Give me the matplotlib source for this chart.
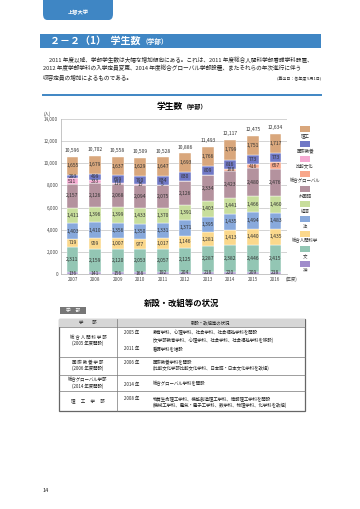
import matplotlib
matplotlib.use("Agg")
import matplotlib.pyplot as plt
from matplotlib.patches import Rectangle, FancyBboxPatch

plt.rcParams['font.family'] = ['Noto Sans CJK JP', 'DejaVu Sans']

years = ['2007', '2008', '2009', '2010', '2011', '2012', '2013', '2014', '2015', '2016']

# bottom to top
series = ['神', '文', '総合人間科学', '法', '経済', '外国語', '総合グローバル', '比較文化', '国際教養', '理工']
shin = [136, 141, 156, 168, 192, 204, 218, 220, 209, 218]
bun = [2311, 2159, 2120, 2053, 2057, 2125, 2287, 2382, 2446, 2415]
sogo_ningen = [719, 959, 1007, 977, 1017, 1146, 1281, 1413, 1440, 1435]
hou = [1403, 1410, 1356, 1350, 1331, 1371, 1395, 1435, 1494, 1483]
keizai = [1411, 1396, 1399, 1433, 1370, 1391, 1403, 1441, 1466, 1460]
gaikokugo = [2157, 2126, 2068, 2094, 2075, 2126, 2334, 2423, 2480, 2476]
sogo_global = [0, 0, 0, 0, 0, 0, 0, 188, 416, 657]
hikaku = [511, 333, 116, 15, 5, 0, 0, 0, 0, 0]
kokusai = [293, 499, 699, 790, 834, 830, 809, 816, 773, 773]
riko = [1655, 1679, 1637, 1629, 1647, 1693, 1766, 1799, 1751, 1717]
values = [shin, bun, sogo_ningen, hou, keizai, gaikokugo, sogo_global, hikaku, kokusai, riko]
colors = ['#a08ccb', '#93c6b4', '#fbd88c', '#88a9dc', '#c8de9c', '#b4929e',
          '#f8a78b', '#f5aad2', '#7078c6', '#d9a77c']

W, H = 360, 509
def fx(x):
    return x / W
def fy(y):
    return 1 - y / H

blue = '#3f86c4'
fig = plt.figure(figsize=(3.6, 5.09), dpi=100)

# header tab
fig.patches.append(FancyBboxPatch((fx(43), fy(20)), fx(70), 20 / H, boxstyle='round,pad=0,rounding_size=0.012',
                                  transform=fig.transFigure, fc=blue, ec='none'))
fig.patches.append(Rectangle((fx(43), fy(10)), fx(70), 10 / H, transform=fig.transFigure, fc=blue, ec='none'))
fig.text(fx(78), fy(13), '上智大学', color='white', fontsize=3.8, weight='bold', ha='center', va='center')

# title bar
fig.patches.append(Rectangle((fx(40), fy(48)), fx(281), 14 / H, transform=fig.transFigure, fc=blue, ec='none'))
fig.text(fx(141), fy(41), '２－２（1）  学生数', color='white', fontsize=7.2, weight='bold',
         ha='right', va='center')
fig.text(fx(142), fy(41.5), '（学部）', color='white', fontsize=4.8, weight='bold', ha='left', va='center')

# paragraph
para = ['2011 年度以降、学部学生数は大幅な増加傾向にある。これは、2011 年度総合人間科学部看護学科設置、',
        '2012 年度学部学科の入学定員変更、2014 年度総合グローバル学部設置、またそれらの年次進行に伴う',
        '収容定員の増加によるものである。']
fig.text(fx(49), fy(60), para[0], fontsize=4.05, va='center', color='#222')
fig.text(fx(43), fy(68.5), para[1], fontsize=4.1, va='center', color='#222')
fig.text(fx(43), fy(77), para[2], fontsize=4.1, va='center', color='#222')
fig.text(fx(321), fy(79), '(算出日：各年度 5月1日)', fontsize=2.9, ha='right', va='center', color='#222')

fig.add_artist(plt.Line2D([fx(43), fx(321)], [fy(95), fy(95)], color=blue, lw=1.4, transform=fig.transFigure))

# chart title
fig.text(fx(183), fy(106), '学生数', fontsize=6.3, weight='bold', ha='right', va='center')
fig.text(fx(183), fy(106.5), '（学部）', fontsize=4.4, weight='bold', ha='left', va='center')

# chart
ax = fig.add_axes([fx(61), fy(274), fx(287) - fx(61), fy(119) - fy(274)])
x = list(range(len(years)))
bottom = [0] * len(years)
for name, vals, c in zip(series, values, colors):
    ax.bar(x, vals, 0.53, bottom=bottom, color=c, edgecolor='white', linewidth=0.3, zorder=3)
    for i, v in enumerate(vals):
        if v > 0:
            ax.text(i, bottom[i] + v / 2, f'{v:,}', fontsize=3.6, ha='center', va='center',
                    color='#333', zorder=4)
    bottom = [b + v for b, v in zip(bottom, vals)]
for i, t in enumerate(bottom):
    ax.text(i, t + 330, f'{t:,}', fontsize=3.6, ha='center', va='bottom', color='#333')

ax.set_xlim(-0.51, 9.51)
ax.set_ylim(0, 14000)
ax.set_yticks(range(0, 14001, 2000))
ax.set_yticklabels([f'{v:,}' for v in range(0, 14001, 2000)])
ax.set_xticks(x)
ax.set_xticklabels(years)
ax.tick_params(labelsize=3.3, length=0, pad=2, colors='#444')
ax.grid(axis='y', color='#cccccc', lw=0.6, zorder=0)
for s in ['top', 'right']:
    ax.spines[s].set_visible(False)
for s in ['left', 'bottom']:
    ax.spines[s].set_color('#bbbbbb')
    ax.spines[s].set_linewidth(0.6)
fig.text(fx(47), fy(114), '(人)', fontsize=3.2, ha='center', va='center', color='#444')
fig.text(fx(291), fy(279), '(年度)', fontsize=3.2, ha='center', va='center', color='#444')

# legend
for k, (name, c) in enumerate(zip(series[::-1], colors[::-1])):
    yc = 129 + 15 * k
    fig.patches.append(Rectangle((fx(300), fy(yc + 2.7)), fx(9.5), 5.4 / H, transform=fig.transFigure,
                                 fc=c, ec='none'))
    fig.text(fx(305), fy(yc + 7), name, fontsize=3.2, ha='center', va='center', color='#333')

# table section
fig.text(fx(182), fy(303), '新設・改組等の状況', fontsize=6.0, weight='bold', ha='center', va='center')
fig.patches.append(Rectangle((fx(60), fy(313.5)), fx(26), 6.5 / H, transform=fig.transFigure,
                             fc='#777777', ec='none'))
fig.text(fx(73), fy(310.3), '学　部', fontsize=3.4, color='white', ha='center', va='center')

tl, tm, tr = 59, 117, 305
rows = [319, 327, 357, 375, 391, 411]
fig.patches.append(Rectangle((fx(tl), fy(rows[1])), fx(tr - tl), (rows[1] - rows[0]) / H,
                             transform=fig.transFigure, fc='#d6d6d6', ec='none'))
def hline(y, lw=0.5):
    fig.add_artist(plt.Line2D([fx(tl), fx(tr)], [fy(y), fy(y)], color='#777', lw=lw, transform=fig.transFigure))
for r in rows[1:-1]:
    hline(r, 0.5)
fig.add_artist(Rectangle((fx(tl), fy(rows[-1])), fx(tr - tl), (rows[-1] - rows[0]) / H,
                         transform=fig.transFigure, fill=False, ec='#666', lw=0.9))
fig.add_artist(plt.Line2D([fx(tm), fx(tm)], [fy(rows[0]), fy(rows[-1])], color='#777', lw=0.5,
                          transform=fig.transFigure))

ts = 3.2
fig.text(fx(88), fy(323), '学　　部', fontsize=ts, ha='center', va='center', color='#222')
fig.text(fx(211), fy(323), '新設・改組等の状況', fontsize=ts, ha='center', va='center', color='#222')

left_col = [(338, '総 合 人 間 科 学 部'), (343.5, '(2005 年度開設)'),
            (362, '国 際 教 養 学 部'), (368, '(2006 年度開設)'),
            (380, '総合グローバル学部'), (386, '(2014 年度開設)'),
            (401, '理　 工　 学　 部')]
for y, t in left_col:
    fig.text(fx(88), fy(y), t, fontsize=ts, ha='center', va='center', color='#222')

right_col = [(333, '2005 年', '教育学科、心理学科、社会学科、社会福祉学科を開設'),
             (340, '', '(文学部教育学科、心理学科、社会学科、社会福祉学科を移設)'),
             (349, '2011 年', '看護学科を増設'),
             (362, '2006 年', '国際教養学科を開設'),
             (368, '', '(比較文化学部比較文化学科、日本語・日本文化学科を改組)'),
             (384, '2014 年', '総合グローバル学科を開設'),
             (398.5, '2008 年', '物質生命理工学科、機能創造理工学科、情報理工学科を開設'),
             (405, '', '(機械工学科、電気・電子工学科、数学科、物理学科、化学科を改組)')]
for y, yr, t in right_col:
    if yr:
        fig.text(fx(124), fy(y), yr, fontsize=ts, ha='left', va='center', color='#222')
    fig.text(fx(152.5), fy(y), t, fontsize=ts, ha='left', va='center', color='#222')

fig.text(fx(43), fy(490), '14', fontsize=4.0, ha='left', va='center', color='#222')

fig.savefig('out.png', dpi=100)
